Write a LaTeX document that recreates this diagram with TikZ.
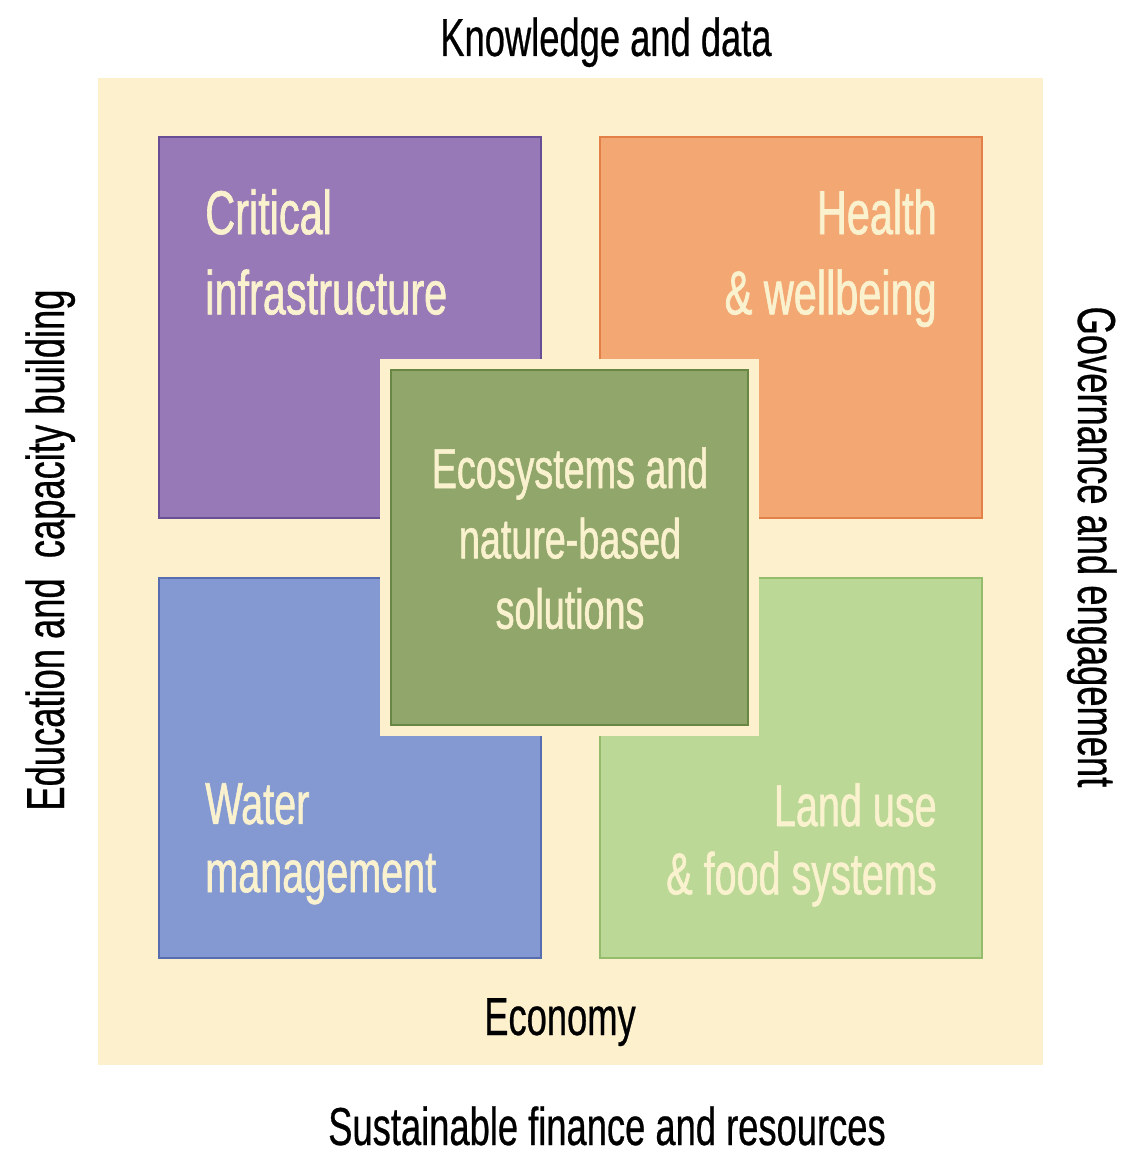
\documentclass[tikz,border=0pt]{standalone}
\usepackage{fontspec}
\usepackage{xcolor}
\usepackage{tikz}
\newfontfamily\condsans{Liberation Sans}[FakeStretch=0.68, FakeBold=0.5]
\newfontfamily\condbox{Liberation Sans}[FakeStretch=0.67, FakeBold=1.0]
\usetikzlibrary{positioning}

\definecolor{creambg}{RGB}{253,240,204}
\definecolor{purplebox}{RGB}{150,121,182}
\definecolor{purpleedge}{RGB}{104,78,148}
\definecolor{orangebox}{RGB}{243,168,116}
\definecolor{orangeedge}{RGB}{226,128,72}
\definecolor{bluebox}{RGB}{132,153,210}
\definecolor{blueedge}{RGB}{88,108,176}
\definecolor{landbox}{RGB}{187,216,150}
\definecolor{landedge}{RGB}{148,188,108}
\definecolor{ecobox}{RGB}{145,166,107}
\definecolor{ecoedge}{RGB}{104,134,68}
\definecolor{labelink}{RGB}{250,242,206}

\tikzset{
  themebox/.style={draw=#1edge, fill=#1box, line width=1.8pt},
  boxlabel/.style={inner sep=0pt, text=labelink},
  outerlabel/.style={inner sep=0pt, text=black, font=\condsans\fontsize{38}{44}\selectfont}
}

\begin{document}
\begin{tikzpicture}[x=0.025cm, y=-0.025cm]
    \useasboundingbox (0,0) rectangle (1122,1155);

    % Cream panel
    \fill[creambg] (98,78) rectangle (1043,1065);

    % Four theme boxes
    \draw[themebox=purple] (159,137) rectangle (541,518);
    \draw[themebox=orange] (600,137) rectangle (982,518);
    \draw[themebox=blue] (159,578) rectangle (541,958);
    \draw[themebox=land] (600,578) rectangle (982,958);

    % Centre box with its cream margin
    \fill[creambg] (380,359) rectangle (759,736);
    \draw[themebox=eco] (391,370) rectangle (748,725);

    % Box texts
    \node[boxlabel, anchor=north west, align=left, font=\condbox\fontsize{44}{57}\selectfont] (crit) at (205,189) {Critical\\infrastructure};
    \node[boxlabel, anchor=north east, align=right, font=\condbox\fontsize{44}{57}\selectfont] (health) at (937,189) {Health\\\& wellbeing};
    \node[boxlabel, anchor=north west, align=left, font=\condbox\fontsize{42}{48.5}\selectfont] (water) at (205,783) {Water\\management};
    \node[boxlabel, anchor=north east, align=right, font=\condbox\fontsize{42}{48.5}\selectfont] (land) at (937,783) {Land use\\\& food systems};
    \node[boxlabel, anchor=north, align=center, font=\condbox\fontsize{40}{50}\selectfont] (eco) at (570,447) {Ecosystems and\\nature-based\\solutions};

    % Surrounding enablers
    \node[outerlabel, anchor=base] (know) at (606,56) {Knowledge and data};
    \node[outerlabel, anchor=base] (econ) at (560,1035) {Economy};
    \node[outerlabel, anchor=base] (fin) at (607,1145) {Sustainable finance and resources};
    \node[outerlabel, anchor=base, rotate=90] (edu) at (64,550) {Education and\ \ capacity building};
    \node[outerlabel, anchor=base, rotate=-90] (gov) at (1078,547) {Governance and engagement};
\end{tikzpicture}
\end{document}
